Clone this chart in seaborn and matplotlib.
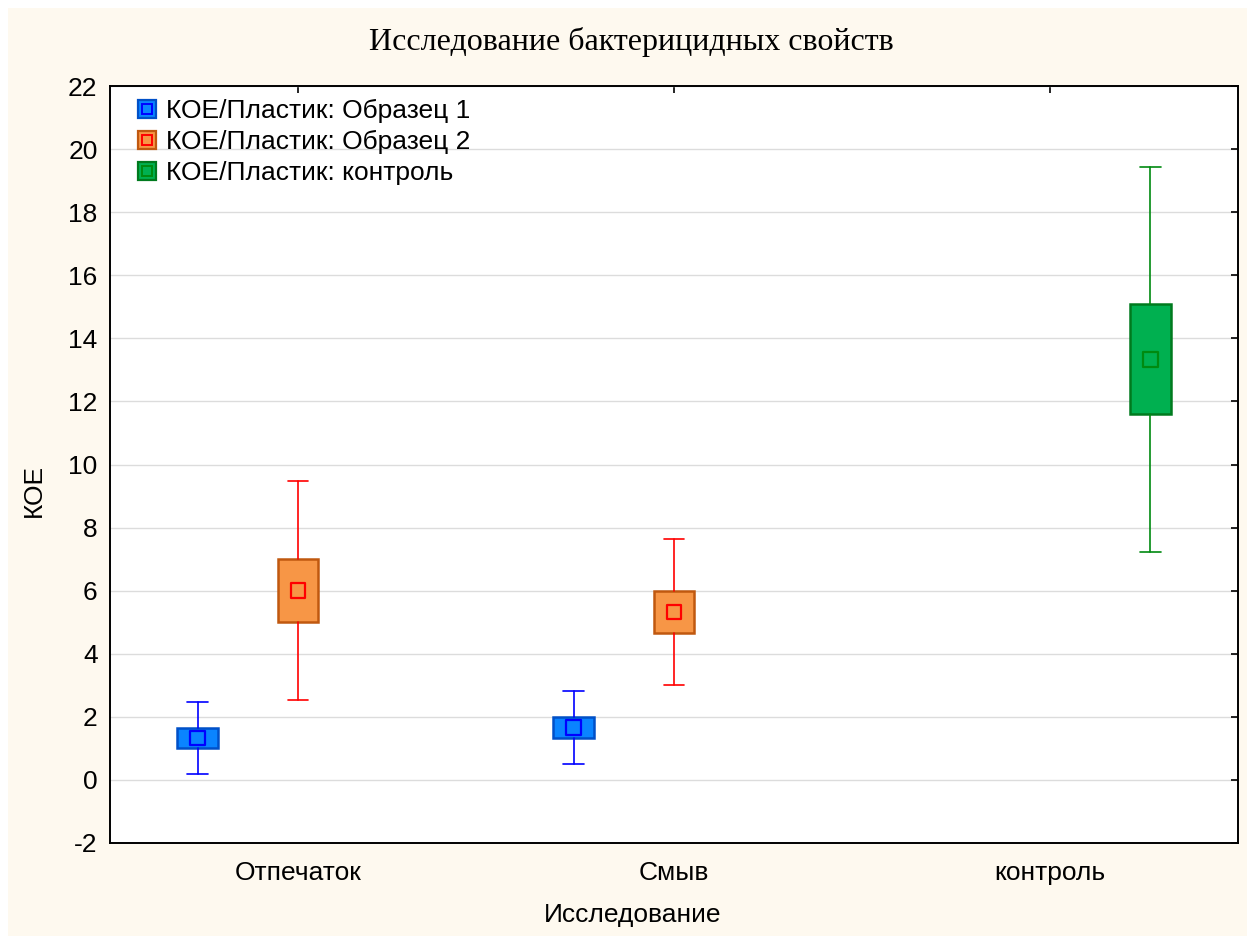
import pandas as pd
import matplotlib.pyplot as plt
import seaborn as sns
from matplotlib.patches import Patch, Rectangle
from matplotlib.lines import Line2D

# data (mean, box and whisker limits)
categories = ["Отпечаток", "Смыв", "контроль"]
groups = ["КОЕ/Пластик: Образец 1", "КОЕ/Пластик: Образец 2", "КОЕ/Пластик: контроль"]

study = ["Отпечаток", "Отпечаток", "Смыв", "Смыв", "контроль"]
group = [groups[0], groups[1], groups[0], groups[1], groups[2]]
mean = [1.33, 6.0, 1.67, 5.33, 13.33]
box_lo = [1.0, 5.0, 1.33, 4.67, 11.6]
box_hi = [1.65, 7.0, 2.0, 6.0, 15.1]
whisk_lo = [0.18, 2.53, 0.5, 3.0, 7.22]
whisk_hi = [2.48, 9.47, 2.82, 7.65, 19.44]

yticks = list(range(-2, 23, 2))

fill = {groups[0]: "#0a84ff", groups[1]: "#f79646", groups[2]: "#00b050"}
edge = {groups[0]: "#0050c8", groups[1]: "#c0580f", groups[2]: "#007a1e"}
line = {groups[0]: "#0000ff", groups[1]: "#ff0000", groups[2]: "#008a10"}
offset = {groups[0]: -0.267, groups[1]: 0.0, groups[2]: 0.267}

df = pd.DataFrame({"study": study, "group": group, "mean": mean,
                   "box_lo": box_lo, "box_hi": box_hi,
                   "whisk_lo": whisk_lo, "whisk_hi": whisk_hi})
df["x"] = [categories.index(s) + offset[g] for s, g in zip(df["study"], df["group"])]

sns.set_theme(style="white")
plt.rcParams['font.family'] = ['Liberation Sans', 'DejaVu Sans']
plt.rcParams['axes.unicode_minus'] = False
plt.rcParams['text.color'] = 'black'
plt.rcParams['axes.labelcolor'] = 'black'

fig = plt.figure(figsize=(12.47, 9.36), dpi=100, facecolor="white")
# cream background with thin white margin on top/left
fig.patches.append(Rectangle((8 / 1247, 0), 1, 928 / 936, transform=fig.transFigure,
                             facecolor="#fef9ef", edgecolor="none", zorder=-10))
ax = fig.add_axes([110 / 1247, 93 / 936, 1128 / 1247, 757 / 936])
ax.set_facecolor("white")

for _, r in df.iterrows():
    g = r["group"]
    stats = [{"med": r["mean"], "q1": r["box_lo"], "q3": r["box_hi"],
              "whislo": r["whisk_lo"], "whishi": r["whisk_hi"], "fliers": []}]
    ax.bxp(stats, positions=[r["x"]], widths=0.107, patch_artist=True,
           showfliers=False, manage_ticks=False,
           boxprops=dict(facecolor=fill[g], edgecolor=edge[g], linewidth=1.8),
           whiskerprops=dict(color=line[g], linewidth=1.2),
           capprops=dict(color=line[g], linewidth=1.2),
           capwidths=0.055,
           medianprops=dict(linewidth=0))

# mean markers
sns.scatterplot(data=df, x="x", y="mean", hue="group", palette=line, marker="s",
                s=110, linewidth=1.6, legend=False, ax=ax, zorder=5)
for coll in ax.collections:
    coll.set_facecolor("none")
    coll.set_edgecolor([line[g] for g in df["group"]])

ax.set_xlim(-0.5, 2.5)
ax.set_ylim(-2, 22)
ax.set_yticks(yticks)
ax.set_xticks(range(len(categories)))
ax.set_xticklabels(categories)
ax.yaxis.grid(True, color="#dcdcdc", linewidth=1)
ax.xaxis.grid(False)
ax.set_axisbelow(True)
for sp in ax.spines.values():
    sp.set_color("black")
    sp.set_linewidth(1.4)
ax.tick_params(axis="both", direction="in", length=5, width=1.2, colors="black",
               labelsize=19, top=True, right=True)
ax.tick_params(axis="x", pad=13)
ax.tick_params(axis="y", pad=9)

ax.set_xlabel("Исследование", fontsize=19, labelpad=13)
ax.set_ylabel("КОЕ", fontsize=19, labelpad=16)
ax.xaxis.label.set_x(0.463)
ax.yaxis.label.set_y(0.466)
fig.text(0.506, 0.955, "Исследование бактерицидных свойств", fontsize=23,
         family=["Liberation Serif", "DejaVu Serif"], ha="center", va="center")

handles = [(Patch(facecolor=fill[g], edgecolor=edge[g], linewidth=1.6),
            Line2D([], [], marker="s", linestyle="none", markersize=7,
                   markerfacecolor="none", markeredgecolor=line[g], markeredgewidth=1.4))
           for g in groups]
ax.legend(handles, groups, loc="upper left", bbox_to_anchor=(0.013, 1.0),
          frameon=False, fontsize=19, handlelength=0.7, handleheight=0.7,
          handletextpad=0.38, labelspacing=0.26, borderaxespad=0.1)

fig.savefig("out.png", dpi=100)
